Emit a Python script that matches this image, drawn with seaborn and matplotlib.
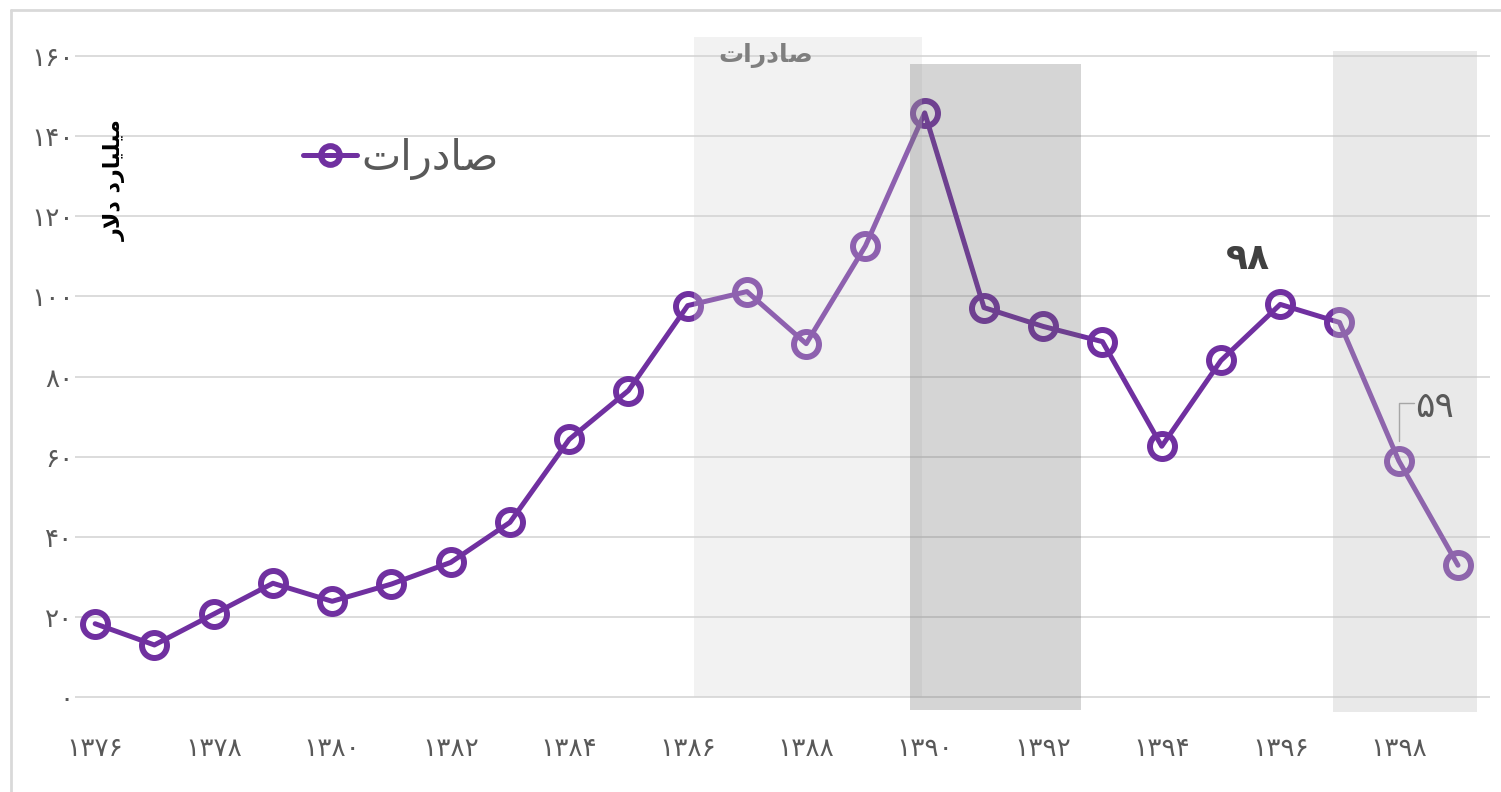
import pandas as pd
import seaborn as sns
import matplotlib.pyplot as plt
from matplotlib.patches import Rectangle
from matplotlib.lines import Line2D

# exports, billion dollars (Persian calendar years)
years = list(range(1376, 1400))
exports = [18.3, 13.0, 20.7, 28.4, 23.9, 28.2, 33.6, 43.6, 64.3, 76.5, 97.7, 101.2,
           88.2, 112.6, 145.8, 97.2, 92.5, 88.7, 62.6, 84.0, 98.0, 93.5, 59.0, 32.9]

# shaded periods: (start, end, bottom, top)
shade_spans = [(1386.1, 1389.96, 0, 164.7),
               (1389.75, 1392.64, -3.2, 158),
               (1396.89, 1399.32, -3.7, 161.2)]

# Arabic text written in shaped (presentation) forms, visual order
label_exports = '\ufe95\ufe8d\ufead\ufea9\ufe8e\ufebb'          # صادرات
label_unit = '\ufead\ufefb\ufea9 \ufea9\ufead\ufe8e\ufef4\ufee0\ufef4\ufee3'  # میلیارد دلار

fa_digits = str.maketrans('0123456789', '۰۱۲۳۴۵۶۷۸۹')


def fa(v):
    return str(v).translate(fa_digits)


sns.set_style('white')
plt.rcParams['font.family'] = ['DejaVu Sans']

purple = '#7030a0'
tick_gray = '#595959'

fig = plt.figure(figsize=(15.01, 7.92), dpi=100)
ax = fig.add_axes([0.04997, 0.0794, 0.9427, 0.8904])

df = pd.DataFrame({'year': years, 'value': exports})
sns.lineplot(data=df, x='year', y='value', ax=ax, color=purple, lw=3.6,
             marker='o', markersize=18, markerfacecolor='none',
             markeredgecolor=purple, markeredgewidth=4.3,
             label=label_exports, zorder=3)

# translucent overlays on top of the line
shade_styles = [('#d4d4d4', 0.30), ('#6a6a6a', 0.28), ('#c4c4c4', 0.36)]
for (x0, x1, y0, y1), (c, a) in zip(shade_spans, shade_styles):
    ax.add_patch(Rectangle((x0, y0), x1 - x0, y1 - y0, facecolor=c, alpha=a,
                           edgecolor='none', zorder=4, clip_on=False))

ax.text(1387.32, 160, label_exports, color='#7f7f7f', fontsize=18,
        fontweight='bold', ha='center', va='center', zorder=5)

# value labels
ax.text(1395.46, 109.4, fa(98), color='#404040', fontsize=26,
        fontweight='bold', ha='center', va='center', zorder=5)
ax.text(1398.6, 72.5, fa(59), color=tick_gray, fontsize=26,
        ha='center', va='center', zorder=5)
ax.plot([1398, 1398, 1398.25], [64, 73.4, 73.4], color='#a6a6a6', lw=1, zorder=5)

ax.set_xlim(1375.66, 1399.54)
ax.set_ylim(-8, 168)
ax.set_xticks(years[::2])
ax.set_xticklabels([fa(y) for y in years[::2]])
ax.set_yticks(range(0, 161, 20))
ax.set_yticklabels([fa(v) for v in range(0, 161, 20)])
ax.tick_params(axis='both', length=0, labelsize=19, colors=tick_gray)
ax.tick_params(axis='y', pad=1)
ax.tick_params(axis='x', pad=5)
ax.set_xlabel('')
ax.set_ylabel('')
ax.yaxis.grid(True, color='#d9d9d9', lw=1.3)
ax.xaxis.grid(False)
sns.despine(ax=ax, left=True, bottom=True)

leg = ax.legend(loc='center left', bbox_to_anchor=(303 / 1501, 0.8005),
                bbox_transform=fig.transFigure, frameon=False, fontsize=30,
                handlelength=1.3, handletextpad=0.1, borderpad=0,
                borderaxespad=0, markerscale=0.75)
for t in leg.get_texts():
    t.set_color(tick_gray)

fig.text(115 / 1501, 1 - 180 / 792, label_unit, rotation=90, ha='center',
         va='center', fontsize=16, fontweight='bold', color='black')

# outer frame (left and top edges)
fig.add_artist(Line2D([11 / 1501, 11 / 1501], [0, 1 - 10 / 792],
                      transform=fig.transFigure, color='#d9d9d9', lw=2))
fig.add_artist(Line2D([11 / 1501, 1], [1 - 10 / 792, 1 - 10 / 792],
                      transform=fig.transFigure, color='#d9d9d9', lw=2))

fig.savefig('out.png', dpi=100)
